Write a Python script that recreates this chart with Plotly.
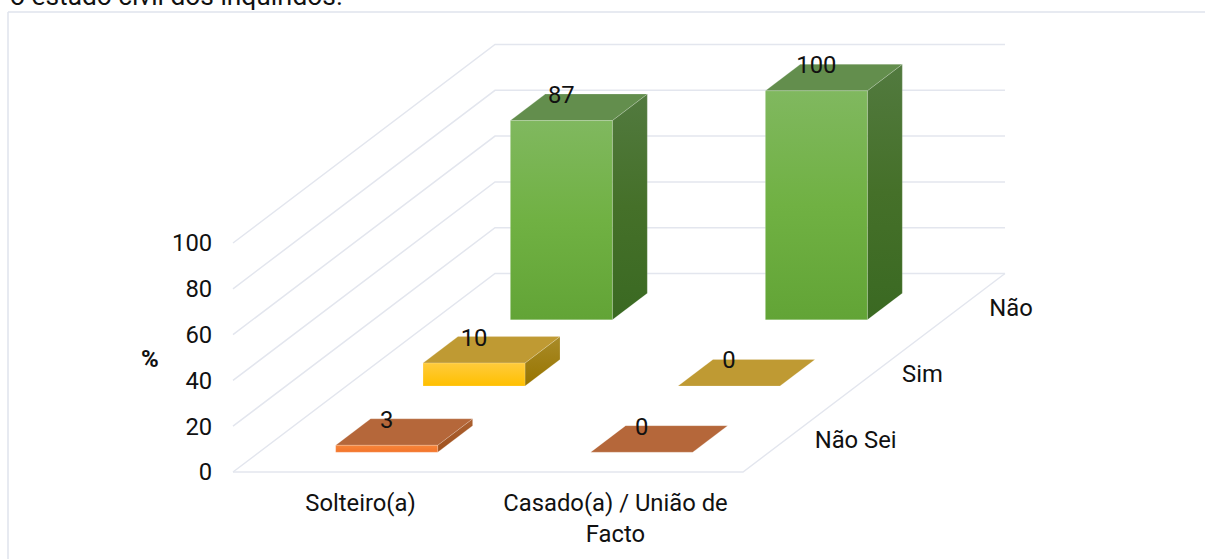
import plotly.graph_objects as go

# ---- data ----
categories = ["Solteiro(a)", "Casado(a) / União de<br>Facto"]
series_names = ["Não Sei", "Sim", "Não"]
values_nao_sei = [3, 0]
values_sim = [10, 0]
values_nao = [87, 100]
y_ticks = [0, 20, 40, 60, 80, 100]
title_text = "o estado civil dos inquiridos."
axis_title = "%"

# ---- layout constants (pixels of the page) ----
W, H = 1205, 559
X0, Y0 = 233, 472          # front-left corner of the floor
CAT_PX = 255               # width of one category
PCT_PX = 2.29              # height of one percent
DEPTH_X_PX, DEPTH_Y_PX = 262, 198.5  # full depth vector
DX = DEPTH_X_PX / CAT_PX
DY = DEPTH_Y_PX / PCT_PX
GAP = 0.3                  # gap on each side of the bar, in slot units

GRID = "#E3E6EE"
TXT = "#111111"
FONT = "Roboto"
FS = 23.8

STYLES = {
    "Não Sei": dict(front=[[0, "#F4742A"], [1, "#F6853A"]], side=[[0, "#A0521F"], [1, "#AB6030"]], top="#B5673A"),
    "Sim": dict(front=[[0, "#FFC000"], [1, "#FFCB3C"]], side=[[0, "#977400"], [1, "#A98B28"]], top="#BF9A33"),
    "Não": dict(front=[[0, "#62A436"], [0.5, "#70B143"], [1, "#80B85F"]],
                side=[[0, "#3A6922"], [0.5, "#457029"], [1, "#527A3F"]], top="#638E4D"),
}


def proj(cat, depth, value):
    return cat + depth * DX, value + depth * DY


fig = go.Figure()


def poly(points, fill=None, grad=None):
    xs = [p[0] for p in points] + [points[0][0]]
    ys = [p[1] for p in points] + [points[0][1]]
    kw = dict(x=xs, y=ys, mode="lines", line=dict(width=0.8, color="rgba(255,255,255,0.22)"),
              fill="toself", hoverinfo="skip", showlegend=False)
    if grad:
        kw["fillgradient"] = dict(type="vertical", colorscale=grad)
        kw["fillcolor"] = grad[0][1]
    else:
        kw["fillcolor"] = fill
    fig.add_trace(go.Scatter(**kw))


def line(points):
    fig.add_trace(go.Scatter(
        x=[p[0] for p in points], y=[p[1] for p in points], mode="lines",
        line=dict(color=GRID, width=1.5), hoverinfo="skip", showlegend=False))


# walls and floor
for v in y_ticks:
    line([proj(0, 0, v), proj(0, 1, v), proj(2, 1, v)])
line([proj(0, 0, 0), proj(2, 0, 0), proj(2, 1, 0)])

# bars, back series first
all_values = {"Não Sei": values_nao_sei, "Sim": values_sim, "Não": values_nao}
labels = []
for s in [2, 1, 0]:
    name = series_names[s]
    st = STYLES[name]
    d0 = (s + GAP) / 3
    d1 = (s + 1 - GAP) / 3
    for c, v in enumerate(all_values[name]):
        c0 = c + GAP
        c1 = c + 1 - GAP
        if v > 0:
            poly([proj(c1, d0, 0), proj(c1, d1, 0), proj(c1, d1, v), proj(c1, d0, v)], grad=st["side"])
        poly([proj(c0, d0, v), proj(c1, d0, v), proj(c1, d1, v), proj(c0, d1, v)], fill=st["top"])
        if v > 0:
            poly([proj(c0, d0, 0), proj(c1, d0, 0), proj(c1, d0, v), proj(c0, d0, v)], grad=st["front"])
        lx = proj(c + 0.5, d0, 0)[0]
        ly = proj(c, d1, v)[1] - 3 / PCT_PX
        labels.append((lx, ly, str(v)))

# data labels
fig.add_trace(go.Scatter(
    x=[l[0] for l in labels], y=[l[1] for l in labels], text=[l[2] for l in labels],
    mode="text", textposition="middle center", textfont=dict(family=FONT, size=FS, color=TXT),
    hoverinfo="skip", showlegend=False))

# depth axis labels
dl = [proj(2, (i + 0.5) / 3, 0) for i in range(3)]
fig.add_trace(go.Scatter(
    x=[p[0] + 28 / CAT_PX for p in dl], y=[p[1] - 3 / PCT_PX for p in dl], text=series_names,
    mode="text", textposition="middle right", textfont=dict(family=FONT, size=FS, color=TXT),
    hoverinfo="skip", showlegend=False))

fig.update_layout(
    width=W, height=H, margin=dict(l=0, r=0, t=0, b=0),
    paper_bgcolor="white", plot_bgcolor="white", hovermode=False, showlegend=False,
    font=dict(family=FONT, size=FS, color=TXT),
    xaxis=dict(
        domain=[0, 1], range=[-X0 / CAT_PX, (W - X0) / CAT_PX], anchor="free",
        position=(H - Y0) / H, tickmode="array", tickvals=[0.5, 1.5], ticktext=categories,
        ticks="outside", ticklen=9, tickcolor="rgba(0,0,0,0)", showgrid=False, zeroline=False, showline=False,
    ),
    yaxis=dict(
        domain=[0, 1], range=[-(H - Y0) / PCT_PX, Y0 / PCT_PX], anchor="free",
        position=X0 / W, tickmode="array", tickvals=y_ticks,
        ticks="outside", ticklen=16, tickcolor="rgba(0,0,0,0)", showgrid=False, zeroline=False, showline=False,
    ),
    shapes=[
        dict(type="line", xref="paper", yref="paper", x0=8 / W, x1=1, y0=1 - 12 / H, y1=1 - 12 / H,
             line=dict(color="#DFE3EC", width=1.5)),
        dict(type="line", xref="paper", yref="paper", x0=8 / W, x1=8 / W, y0=0, y1=1 - 12 / H,
             line=dict(color="#DFE3EC", width=1.5)),
    ],
    annotations=[
        dict(text=title_text, xref="paper", yref="paper", x=8 / W, y=1 + 7 / H, xanchor="left", yanchor="top",
             showarrow=False, font=dict(family=FONT, size=26.3, color=TXT), yshift=14),
        dict(text="<b>" + axis_title + "</b>", xref="paper", yref="paper", x=150 / W, y=1 - 359 / H,
             xanchor="center", yanchor="middle", showarrow=False, font=dict(family=FONT, size=24, color=TXT)),
    ],
)

fig.write_html("out.html", config={"displayModeBar": False},
               post_script="document.body.style.margin='0';")
